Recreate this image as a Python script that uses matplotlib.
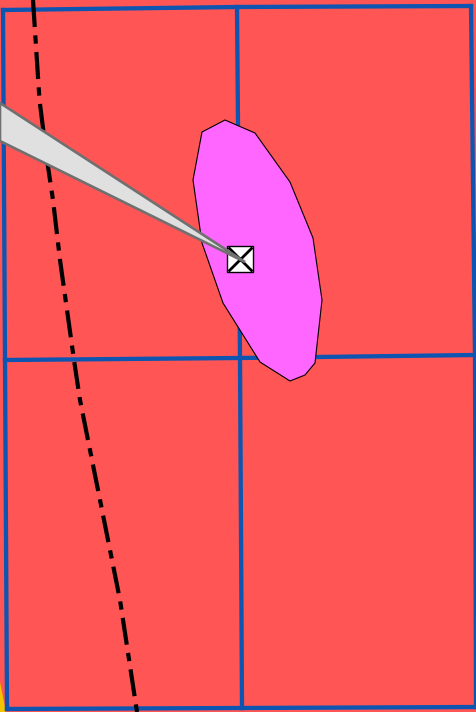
import matplotlib
matplotlib.use("Agg")
import matplotlib.pyplot as plt
from matplotlib.patches import Polygon

# grid cell corners (pixel coords, y down)
grid_h_lines = [[(3, 10), (237, 7), (471, 6)],
                [(5, 360), (240, 358), (475, 355)],
                [(7, 709), (242, 708), (476, 707)]]
grid_v_lines = [[(3, 10), (5, 360), (7, 709)],
                [(237, 7), (240, 358), (242, 708)],
                [(471, 6), (475, 355), (476, 707)]]

# dash-dot track
track_x = [33, 39.5, 47, 53, 60, 74, 80, 92, 100, 108, 120, 137]
track_y = [0, 100, 160, 200, 260, 360, 400, 460, 500, 540, 600, 712]

# magenta area outline
area_x = [202, 225, 255, 290, 313, 322, 315, 305, 290, 260, 223, 202, 193]
area_y = [132, 120, 133, 182, 238, 300, 363, 375, 381, 362, 303, 243, 180]

# pointer wedge
wedge_x = [0, 245, 0]
wedge_y = [103, 262, 141]

# yellow corner
yellow_x = [0, 6, 0]
yellow_y = [682, 712, 712]

marker_xy = (240, 259)

W, H = 477, 712
fig = plt.figure(figsize=(W / 100, H / 100), dpi=100)
ax = fig.add_axes([0, 0, 1, 1])
ax.set_xlim(0, W)
ax.set_ylim(H, 0)
ax.axis('off')
fig.patch.set_facecolor('#ff5555')
ax.set_facecolor('#ff5555')

ax.add_patch(Polygon(list(zip(yellow_x, yellow_y)), closed=True,
                     facecolor='#f5c400', edgecolor='none', zorder=1))

for line in grid_h_lines + grid_v_lines:
    xs, ys = zip(*line)
    ax.plot(xs, ys, color='#0d55b0', lw=3.1, zorder=2, solid_capstyle='projecting')

ax.plot(track_x, track_y, color='black', lw=3.0,
        linestyle=(0, (6.5, 2, 2, 2)), zorder=3)

ax.add_patch(Polygon(list(zip(area_x, area_y)), closed=True,
                     facecolor='#ff66ff', edgecolor='black', lw=0.8, zorder=4))

ax.add_patch(Polygon(list(zip(wedge_x, wedge_y)), closed=True,
                     facecolor='#e0e0e0', edgecolor='#707070', lw=1.9, zorder=6))

ax.plot(*marker_xy, marker='s', markersize=19, markerfacecolor='white',
        markeredgecolor='black', markeredgewidth=1, zorder=5)
ax.plot(*marker_xy, marker='x', markersize=17, color='black',
        markeredgewidth=2, zorder=5)

fig.savefig('out.png', dpi=100, facecolor=fig.get_facecolor())
